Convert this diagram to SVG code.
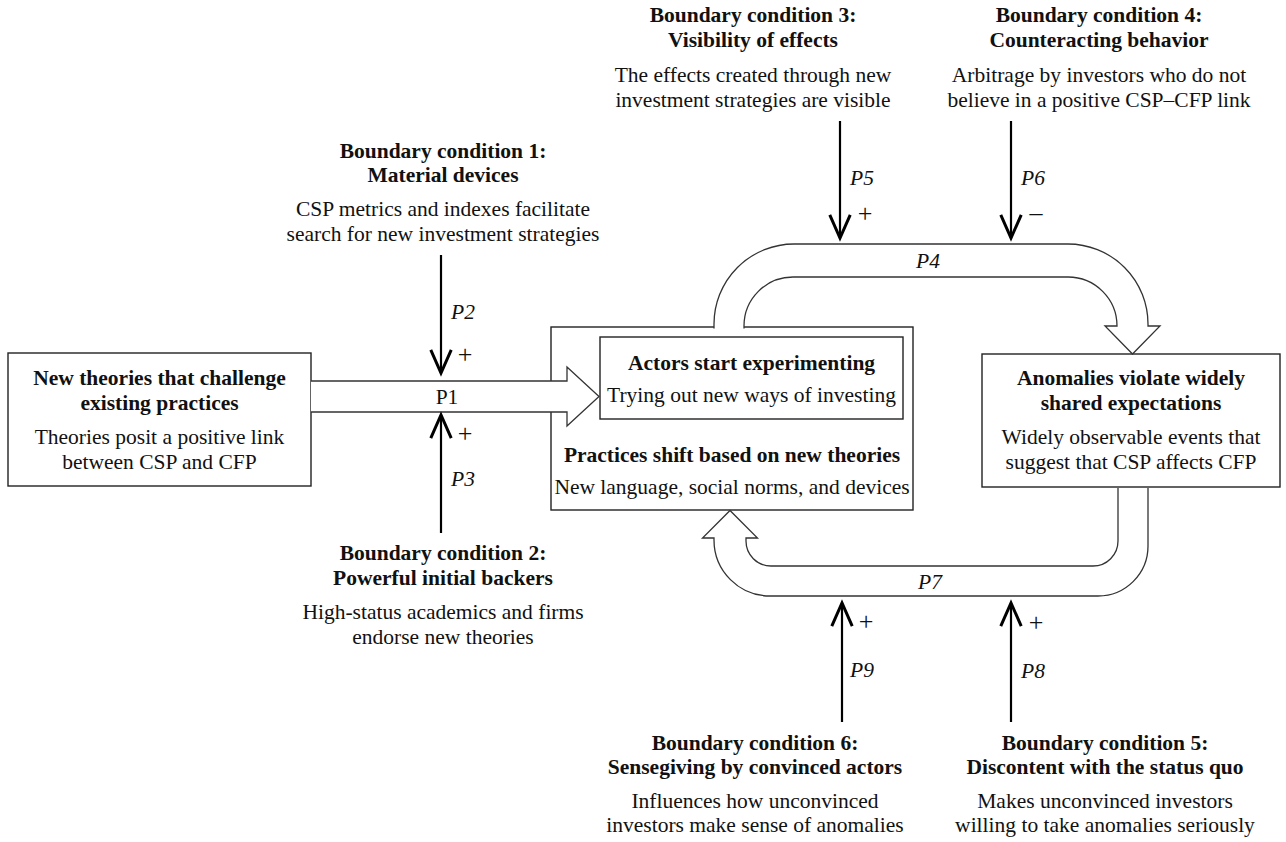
<svg xmlns="http://www.w3.org/2000/svg" width="1286" height="842" viewBox="0 0 1286 842">
<style>
.t{font-family:"Liberation Serif","Times New Roman",serif;font-size:21.5px;fill:#111;text-anchor:middle}
.b{font-weight:bold}
.i{font-style:italic}
.s{font-size:26px}
.box{fill:#fff;stroke:#222;stroke-width:1.4}
.band{fill:#fff;stroke:#333;stroke-width:1.3;stroke-linejoin:miter}
.arr{stroke:#000;stroke-width:2.2;fill:none;marker-end:url(#v)}
</style>
<defs>
<marker id="v" markerUnits="userSpaceOnUse" markerWidth="30" markerHeight="30" viewBox="-20 -10 22 20" refX="0" refY="0" orient="auto" overflow="visible">
<path d="M-17,-7.5 L0,0 L-17,7.5" fill="none" stroke="#000" stroke-width="2.2"/>
</marker>
</defs>
<rect width="1286" height="842" fill="#fff"/>

<g id="bc1">
<text class="t b" x="443" y="158">Boundary condition 1:</text>
<text class="t b" x="443" y="182">Material devices</text>
<text class="t" x="443" y="216">CSP metrics and indexes facilitate</text>
<text class="t" x="443" y="241">search for new investment strategies</text>
</g>
<g id="bc2">
<text class="t b" x="443" y="560">Boundary condition 2:</text>
<text class="t b" x="443" y="585">Powerful initial backers</text>
<text class="t" x="443" y="619">High-status academics and firms</text>
<text class="t" x="443" y="644">endorse new theories</text>
</g>
<g id="bc3">
<text class="t b" x="753" y="22">Boundary condition 3:</text>
<text class="t b" x="753" y="47">Visibility of effects</text>
<text class="t" x="753" y="82">The effects created through new</text>
<text class="t" x="753" y="107">investment strategies are visible</text>
</g>
<g id="bc4">
<text class="t b" x="1099" y="22">Boundary condition 4:</text>
<text class="t b" x="1099" y="47">Counteracting behavior</text>
<text class="t" x="1099" y="82">Arbitrage by investors who do not</text>
<text class="t" x="1099" y="107">believe in a positive CSP–CFP link</text>
</g>
<g id="bc5">
<text class="t b" x="1105" y="750">Boundary condition 5:</text>
<text class="t b" x="1105" y="774">Discontent with the status quo</text>
<text class="t" x="1105" y="808">Makes unconvinced investors</text>
<text class="t" x="1105" y="832">willing to take anomalies seriously</text>
</g>
<g id="bc6">
<text class="t b" x="755" y="750">Boundary condition 6:</text>
<text class="t b" x="755" y="774">Sensegiving by convinced actors</text>
<text class="t" x="755" y="808">Influences how unconvinced</text>
<text class="t" x="755" y="832">investors make sense of anomalies</text>
</g>

<g id="new-theories">
<rect class="box" x="8" y="353" width="303" height="133"/>
<text class="t b" x="159.5" y="385">New theories that challenge</text>
<text class="t b" x="159.5" y="410">existing practices</text>
<text class="t" x="159.5" y="444">Theories posit a positive link</text>
<text class="t" x="159.5" y="469">between CSP and CFP</text>
</g>

<g id="practices-shift">
<rect class="box" x="551" y="327" width="362" height="183"/>
<text class="t b" x="732" y="462">Practices shift based on new theories</text>
<text class="t" x="732" y="494">New language, social norms, and devices</text>
</g>

<g id="actors-experimenting">
<rect class="box" x="600" y="337" width="303" height="82"/>
<text class="t b" x="751.5" y="370">Actors start experimenting</text>
<text class="t" x="751.5" y="402">Trying out new ways of investing</text>
</g>

<g id="anomalies">
<rect class="box" x="982" y="354" width="298" height="133"/>
<text class="t b" x="1131" y="385">Anomalies violate widely</text>
<text class="t b" x="1131" y="410">shared expectations</text>
<text class="t" x="1131" y="444">Widely observable events that</text>
<text class="t" x="1131" y="469">suggest that CSP affects CFP</text>
</g>

<g id="connectors">
<path id="p1" class="band" d="M311,381 L567,381 L567,367 L599,396.5 L567,426 L567,412 L311,412"/>
<path id="p4" class="band" d="M714,328.5 L714,324 A80,80 0 0 1 794,244 L1068,244 A80,80 0 0 1 1148,324 L1148,326 L1160,326 L1132.5,354 L1105,326 L1117,326 A49,49 0 0 0 1068,277 L793,277 A49,49 0 0 0 744,326 L744,328.5"/>
<path id="p7" class="band" d="M1148,488 L1148,546 A50,50 0 0 1 1098,596 L770,596 A56,56 0 0 1 714,540 L714,538 L702.5,538 L730,510.5 L757.5,538 L746,538 L746,541 A25,25 0 0 0 771,566 L1093,566 A25,25 0 0 0 1118,541 L1118,488"/>
<line id="p2" class="arr" x1="441" y1="255" x2="441" y2="373"/>
<line id="p3" class="arr" x1="441" y1="533" x2="441" y2="415"/>
<line id="p5" class="arr" x1="840" y1="121" x2="840" y2="238"/>
<line id="p6" class="arr" x1="1011" y1="121" x2="1011" y2="238"/>
<line id="p9" class="arr" x1="842" y1="722" x2="842" y2="603"/>
<line id="p8" class="arr" x1="1011" y1="722" x2="1011" y2="603"/>
<text class="t" x="447" y="404">P1</text>
<text class="t i" x="463" y="319">P2</text>
<text class="t s" x="465" y="363">+</text>
<text class="t s" x="465" y="442">+</text>
<text class="t i" x="463" y="486">P3</text>
<text class="t i" x="862" y="185">P5</text>
<text class="t s" x="865" y="222">+</text>
<text class="t i" x="1033" y="185">P6</text>
<text class="t s" x="1036" y="221">–</text>
<text class="t i" x="928" y="268">P4</text>
<text class="t i" x="930" y="589">P7</text>
<text class="t s" x="866" y="630">+</text>
<text class="t i" x="862" y="677">P9</text>
<text class="t s" x="1036" y="631">+</text>
<text class="t i" x="1033" y="678">P8</text>
</g>
</svg>
